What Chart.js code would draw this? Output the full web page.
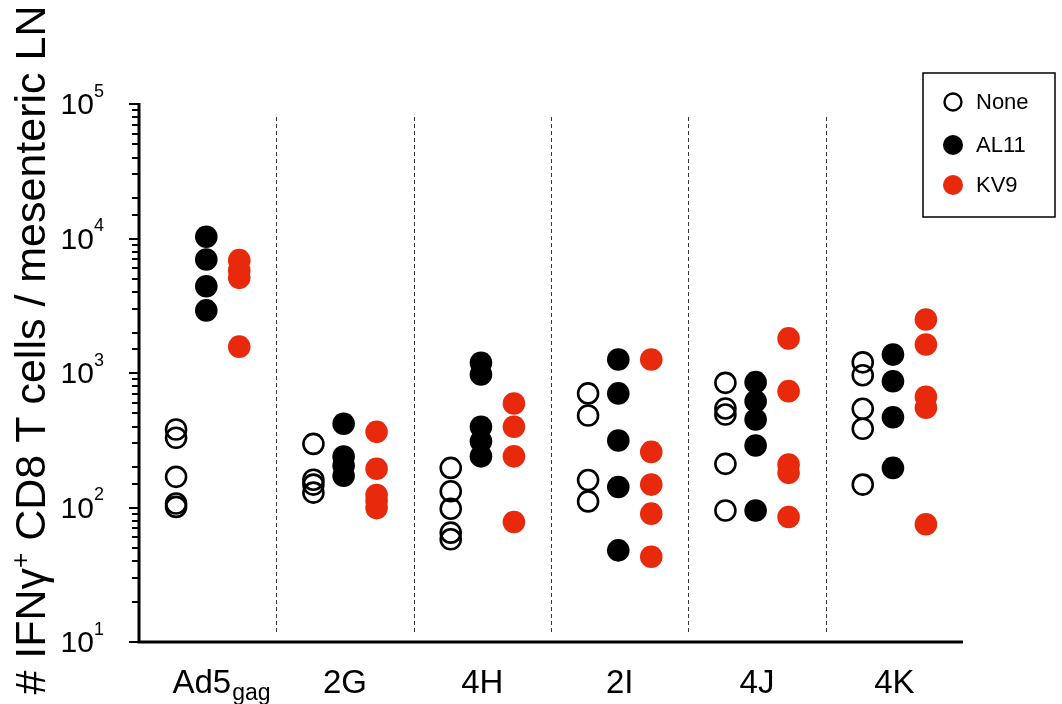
<!DOCTYPE html>
<html>
<head>
<meta charset="utf-8">
<script src="https://cdn.jsdelivr.net/npm/chart.js@4/dist/chart.umd.min.js"></script>
<style>
  html, body { margin: 0; padding: 0; background: #fff; }
  #wrap { width: 1062px; height: 704px; position: relative; }
</style>
</head>
<body>
<div id="wrap"><canvas id="c" width="1062" height="704"></canvas></div>
<script>
// Groups along the x axis (main text + subscript)
const categories = ['Ad5', '2G', '4H', '2I', '4J', '4K'];
const categorySubs = ['gag', '', '', '', '', ''];

// IFNγ+ CD8 T cells per mesenteric LN, one list per group
const noneValues = [
  [380, 330, 169, 107, 101],
  [297, 161, 148, 129],
  [197, 132, 98, 65, 58],
  [705, 483, 160, 111],
  [845, 545, 491, 211, 95],
  [1200, 963, 542, 385, 148]
];
const al11Values = [
  [10300, 6980, 4420, 2920],
  [419, 239, 205, 172],
  [1190, 975, 398, 311, 240],
  [1260, 705, 315, 142, 48],
  [855, 616, 451, 289, 95],
  [1370, 869, 469, 197]
];
const kv9Values = [
  [6900, 5800, 5100, 1570],
  [365, 194, 124, 112, 99],
  [593, 398, 240, 78],
  [1260, 259, 148, 90, 43],
  [1808, 733, 209, 181, 85],
  [2500, 1630, 665, 551, 75]
];

// Decade tick labels (exponents of 10)
const tickExponents = [1, 2, 3, 4, 5];

const RED = '#E8290B';
const FONT = '"Liberation Sans", Arial, sans-serif';

// place each series at a fixed fraction inside its group
function toPoints(groups, offset) {
  const pts = [];
  groups.forEach((vals, i) => vals.forEach(v => pts.push({ x: i + offset, y: v })));
  return pts;
}

const datasets = [
  {
    label: 'None', data: toPoints(noneValues, 0.27),
    pointRadius: 10, pointBorderWidth: 2.6,
    pointBackgroundColor: 'rgba(0,0,0,0)', pointBorderColor: '#000',
    legendFill: null, legendStroke: '#000'
  },
  {
    label: 'AL11', data: toPoints(al11Values, 0.49),
    pointRadius: 11.3, pointBorderWidth: 0,
    pointBackgroundColor: '#000', pointBorderColor: '#000',
    legendFill: '#000', legendStroke: null
  },
  {
    label: 'KV9', data: toPoints(kv9Values, 0.73),
    pointRadius: 11.3, pointBorderWidth: 0,
    pointBackgroundColor: RED, pointBorderColor: RED,
    legendFill: RED, legendStroke: null
  }
];
datasets.forEach(d => { d.showLine = false; d.pointHoverRadius = d.pointRadius; });

// axes take no room of their own: the layout padding sets the plot box
function noSpace(scale) { scale.width = 0; scale.height = 0; scale.paddingLeft = scale.paddingRight = scale.paddingTop = scale.paddingBottom = 0; }

// axes, ticks, separators, labels, title and legend box
const decor = {
  id: 'decor',
  beforeDatasetsDraw(chart) {
    const { ctx, chartArea: a, scales: { x, y } } = chart;
    ctx.save();
    // dashed group separators
    ctx.strokeStyle = '#333';
    ctx.lineWidth = 1;
    ctx.setLineDash([4, 3]);
    for (let i = 1; i < categories.length; i++) {
      const px = Math.round(x.getPixelForValue(i)) + 0.5;
      ctx.beginPath();
      ctx.moveTo(px, y.getPixelForValue(80000));
      ctx.lineTo(px, a.bottom - 8);
      ctx.stroke();
    }
    ctx.restore();
  },
  afterDraw(chart) {
    const { ctx, chartArea: a, scales: { x, y } } = chart;
    ctx.save();
    ctx.strokeStyle = '#000';
    ctx.fillStyle = '#000';

    // y ticks (log minor + major)
    ctx.lineWidth = 2;
    y.ticks.forEach(t => {
      const py = Math.round(y.getPixelForValue(t.value));
      const lg = Math.log10(t.value);
      const major = Math.abs(lg - Math.round(lg)) < 1e-9;
      const len = major ? 10 : 7;
      ctx.beginPath();
      ctx.moveTo(a.left - len, py);
      ctx.lineTo(a.left, py);
      ctx.stroke();
    });

    // axis lines
    ctx.lineWidth = 3;
    ctx.beginPath();
    ctx.moveTo(a.left, a.top - 1);
    ctx.lineTo(a.left, a.bottom);
    ctx.lineTo(a.right, a.bottom);
    ctx.stroke();

    // y tick labels 10^n
    tickExponents.forEach(e => {
      const py = y.getPixelForValue(Math.pow(10, e));
      ctx.font = '18px ' + FONT;
      const sw = ctx.measureText(String(e)).width;
      const right = a.left - 35;
      ctx.textAlign = 'left';
      ctx.textBaseline = 'middle';
      ctx.fillText(String(e), right - sw, py - 12);
      ctx.font = '30px ' + FONT;
      ctx.textAlign = 'right';
      ctx.fillText('10', right - sw, py + 2);
    });

    // x category labels
    categories.forEach((c, i) => {
      const cx = x.getPixelForValue(i + 0.5);
      ctx.font = '33px ' + FONT;
      const mw = ctx.measureText(c).width;
      const startX = cx - (categorySubs[i] ? mw * 0.6 : mw / 2);
      ctx.textAlign = 'left';
      ctx.textBaseline = 'alphabetic';
      ctx.fillText(c, startX, a.bottom + 51);
      if (categorySubs[i]) {
        ctx.font = '23px ' + FONT;
        ctx.fillText(categorySubs[i], startX + mw + 1, a.bottom + 58);
      }
    });

    // y axis title
    ctx.save();
    ctx.translate(45, 350);
    ctx.rotate(-Math.PI / 2);
    const t1 = '# IFN\u03B3', t2 = '+', t3 = ' CD8 T cells / mesenteric LN';
    ctx.font = '43px ' + FONT;
    const w1 = ctx.measureText(t1).width, w3 = ctx.measureText(t3).width;
    ctx.font = '26px ' + FONT;
    const w2 = ctx.measureText(t2).width;
    const sx = -(w1 + w2 + w3) / 2;
    ctx.textAlign = 'left';
    ctx.textBaseline = 'alphabetic';
    ctx.font = '43px ' + FONT;
    ctx.fillText(t1, sx, 0);
    ctx.font = '26px ' + FONT;
    ctx.fillText(t2, sx + w1, -16);
    ctx.font = '43px ' + FONT;
    ctx.fillText(t3, sx + w1 + w2, 0);
    ctx.restore();

    // legend box
    const bx = 923, by = 73, bw = 132, bh = 144;
    ctx.lineWidth = 1.5;
    ctx.strokeStyle = '#000';
    ctx.strokeRect(bx, by, bw, bh);
    const rowY = [102, 145, 185];
    chart.data.datasets.forEach((d, i) => {
      const cy = rowY[i];
      ctx.beginPath();
      ctx.arc(953, cy, d.legendStroke ? 8.5 : 10, 0, Math.PI * 2);
      if (d.legendFill) { ctx.fillStyle = d.legendFill; ctx.fill(); }
      if (d.legendStroke) { ctx.strokeStyle = d.legendStroke; ctx.lineWidth = 2.4; ctx.stroke(); }
      ctx.fillStyle = '#000';
      ctx.font = '22px ' + FONT;
      ctx.textAlign = 'left';
      ctx.textBaseline = 'middle';
      ctx.fillText(d.label, 976, cy + 1);
    });
    ctx.restore();
  }
};

new Chart(document.getElementById('c'), {
  type: 'scatter',
  data: { datasets },
  options: {
    responsive: false,
    animation: false,
    events: [],
    layout: { padding: { left: 139, right: 99, top: 104, bottom: 62 } },
    plugins: { legend: { display: false }, tooltip: { enabled: false } },
    scales: {
      x: {
        type: 'linear', min: 0, max: categories.length,
        grid: { display: false }, border: { display: false },
        ticks: { display: false }, afterFit: noSpace
      },
      y: {
        type: 'logarithmic', min: 10, max: 100000,
        grid: { display: false }, border: { display: false },
        ticks: { display: false }, afterFit: noSpace
      }
    }
  },
  plugins: [decor]
});
</script>
</body>
</html>
